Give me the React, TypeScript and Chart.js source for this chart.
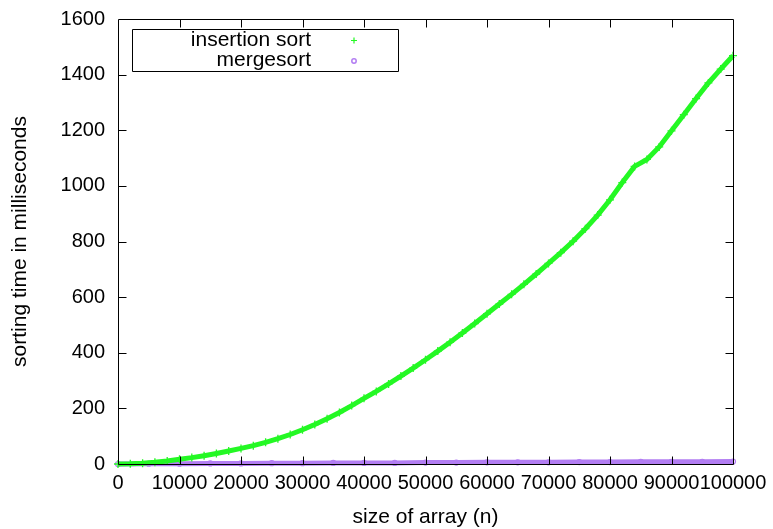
import React, { useEffect, useRef } from "react";
import { Chart, registerables } from "chart.js";

Chart.register(...registerables);

// array sizes (n) for insertion sort samples
const insertionSizes = [
  0, 2000, 4000, 6000, 8000, 10000, 12000, 14000, 16000, 18000, 20000,
  22000, 24000, 26000, 28000, 30000, 32000, 34000, 36000, 38000, 40000,
  42000, 44000, 46000, 48000, 50000, 52000, 54000, 56000, 58000, 60000,
  62000, 64000, 66000, 68000, 70000, 72000, 74000, 76000, 78000, 80000,
  82000, 84000, 86000, 88000, 90000, 92000, 94000, 96000, 98000, 100000,
];
// insertion sort time (ms)
const insertionTimes = [
  0, 1, 3, 6, 11, 17, 23, 30, 38, 47, 56,
  66, 78, 91, 106, 123, 142, 163, 185, 210, 236,
  261, 288, 316, 345, 375, 406, 438, 471, 505, 540,
  575, 610, 646, 683, 721, 760, 801, 846, 895, 950,
  1012, 1070, 1095, 1140, 1198, 1256, 1314, 1370, 1420, 1468,
];
// array sizes (n) for mergesort samples
const mergeSizes = [
  0, 5000, 10000, 15000, 20000, 25000, 30000, 35000, 40000, 45000, 50000,
  55000, 60000, 65000, 70000, 75000, 80000, 85000, 90000, 95000, 100000,
];
// mergesort time (ms)
const mergeTimes = [0, 1, 1, 2, 2, 3, 3, 4, 4, 4, 5, 5, 6, 6, 6, 7, 7, 8, 8, 8, 9];

const xTickStep = 10000;
const yTickStep = 200;
const xMax = 100000;
const yMax = 1600;

const GREEN = "#24f824";
const PURPLE = "#b27df2";
const FONT = "'Liberation Sans', Arial, sans-serif";

const framePlugin = {
  id: "gnuplotFrame",
  afterDatasetsDraw(chart: any) {
    const { ctx, chartArea, scales } = chart;
    const { left, right, top, bottom } = chartArea;
    const xs = scales.x;
    const ys = scales.y;
    ctx.save();
    ctx.strokeStyle = "#000";
    ctx.lineWidth = 1;
    ctx.beginPath();
    ctx.rect(left + 0.5, top + 0.5, right - left, bottom - top);
    ctx.stroke();
    const tl = 8;
    ctx.beginPath();
    xs.ticks.forEach((t: any) => {
      const px = Math.round(xs.getPixelForValue(t.value)) + 0.5;
      if (px <= left + 1 || px >= right - 1) return;
      ctx.moveTo(px, bottom + 0.5);
      ctx.lineTo(px, bottom + 0.5 - tl);
      ctx.moveTo(px, top + 0.5);
      ctx.lineTo(px, top + 0.5 + tl);
    });
    ys.ticks.forEach((t: any) => {
      const py = Math.round(ys.getPixelForValue(t.value)) + 0.5;
      if (py <= top + 1 || py >= bottom - 1) return;
      ctx.moveTo(left + 0.5, py);
      ctx.lineTo(left + 0.5 + tl, py);
      ctx.moveTo(right + 0.5, py);
      ctx.lineTo(right + 0.5 - tl, py);
    });
    ctx.stroke();

    // key box
    const bx = left + 14;
    const by = top + 10;
    const bw = 266;
    const bh = 42;
    ctx.fillStyle = "#fff";
    ctx.fillRect(bx, by, bw, bh);
    ctx.beginPath();
    ctx.rect(bx + 0.5, by + 0.5, bw, bh);
    ctx.stroke();
    ctx.font = `21px ${FONT}`;
    ctx.fillStyle = "#000";
    ctx.textAlign = "right";
    ctx.textBaseline = "middle";
    const ds = chart.data.datasets;
    const textX = bx + 179;
    const symX = bx + 222;
    ctx.fillText(ds[0].label, textX, by + 11);
    ctx.fillText(ds[1].label, textX, by + 31);
    ctx.strokeStyle = GREEN;
    ctx.lineWidth = 1.2;
    ctx.beginPath();
    ctx.moveTo(symX - 3, by + 11.5);
    ctx.lineTo(symX + 3, by + 11.5);
    ctx.moveTo(symX, by + 8.5);
    ctx.lineTo(symX, by + 14.5);
    ctx.stroke();
    ctx.strokeStyle = PURPLE;
    ctx.lineWidth = 1.5;
    ctx.beginPath();
    ctx.arc(symX, by + 32, 2.2, 0, Math.PI * 2);
    ctx.stroke();
    ctx.restore();
  },
};

export default function App() {
  const ref = useRef<HTMLCanvasElement | null>(null);

  useEffect(() => {
    document.body.style.margin = "0";
    const canvas = ref.current;
    if (!canvas) return;
    const chart = new Chart(canvas, {
      type: "scatter",
      data: {
        datasets: [
          {
            label: "insertion sort",
            data: insertionSizes.map((x, i) => ({ x, y: insertionTimes[i] })),
            showLine: true,
            borderColor: GREEN,
            backgroundColor: GREEN,
            borderWidth: 5,
            pointStyle: "cross",
            pointRadius: 4,
            pointBorderWidth: 1.3,
            pointBorderColor: GREEN,
            clip: 6,
          } as any,
          {
            label: "mergesort",
            data: mergeSizes.map((x, i) => ({ x, y: mergeTimes[i] })),
            showLine: true,
            borderColor: PURPLE,
            backgroundColor: "transparent",
            borderWidth: 5,
            pointStyle: "circle",
            pointRadius: 2.5,
            pointBorderWidth: 1.2,
            pointBorderColor: PURPLE,
            clip: 6,
          } as any,
        ],
      },
      options: {
        animation: false,
        responsive: false,
        devicePixelRatio: 1,
        layout: { padding: { left: 0, right: 40, top: 19, bottom: 0 } },
        plugins: {
          legend: { display: false },
          tooltip: { enabled: false },
        },
        scales: {
          x: {
            type: "linear",
            min: 0,
            max: xMax,
            grid: { display: false, drawTicks: false },
            border: { display: false },
            ticks: {
              stepSize: xTickStep,
              autoSkip: false,
              maxRotation: 0,
              padding: 7,
              color: "#000",
              font: { family: FONT, size: 20 },
              callback: (v: any) => String(v),
            },
            title: {
              display: true,
              text: "size of array (n)",
              color: "#000",
              font: { family: FONT, size: 21 },
              padding: { top: 0, bottom: -0.5 },
            },
            afterFit: (s: any) => {
              s.height = 65;
              s.paddingLeft = 0;
              s.paddingRight = 0;
            },
          },
          y: {
            type: "linear",
            min: 0,
            max: yMax,
            grid: { display: false, drawTicks: false },
            border: { display: false },
            ticks: {
              stepSize: yTickStep,
              autoSkip: false,
              padding: 13,
              color: "#000",
              font: { family: FONT, size: 20 },
              callback: (v: any) => String(v),
            },
            title: {
              display: true,
              text: "sorting time in milliseconds",
              color: "#000",
              font: { family: FONT, size: 21 },
              padding: { top: 7.5, bottom: 0 },
            },
            afterFit: (s: any) => {
              s.width = 118;
              s.paddingTop = 0;
              s.paddingBottom = 0;
            },
          },
        },
      },
      plugins: [framePlugin],
    });
    return () => chart.destroy();
  }, []);

  return (
    <div style={{ width: 773, height: 529, background: "#fff" }}>
      <canvas ref={ref} width={773} height={529} style={{ display: "block" }} />
    </div>
  );
}
